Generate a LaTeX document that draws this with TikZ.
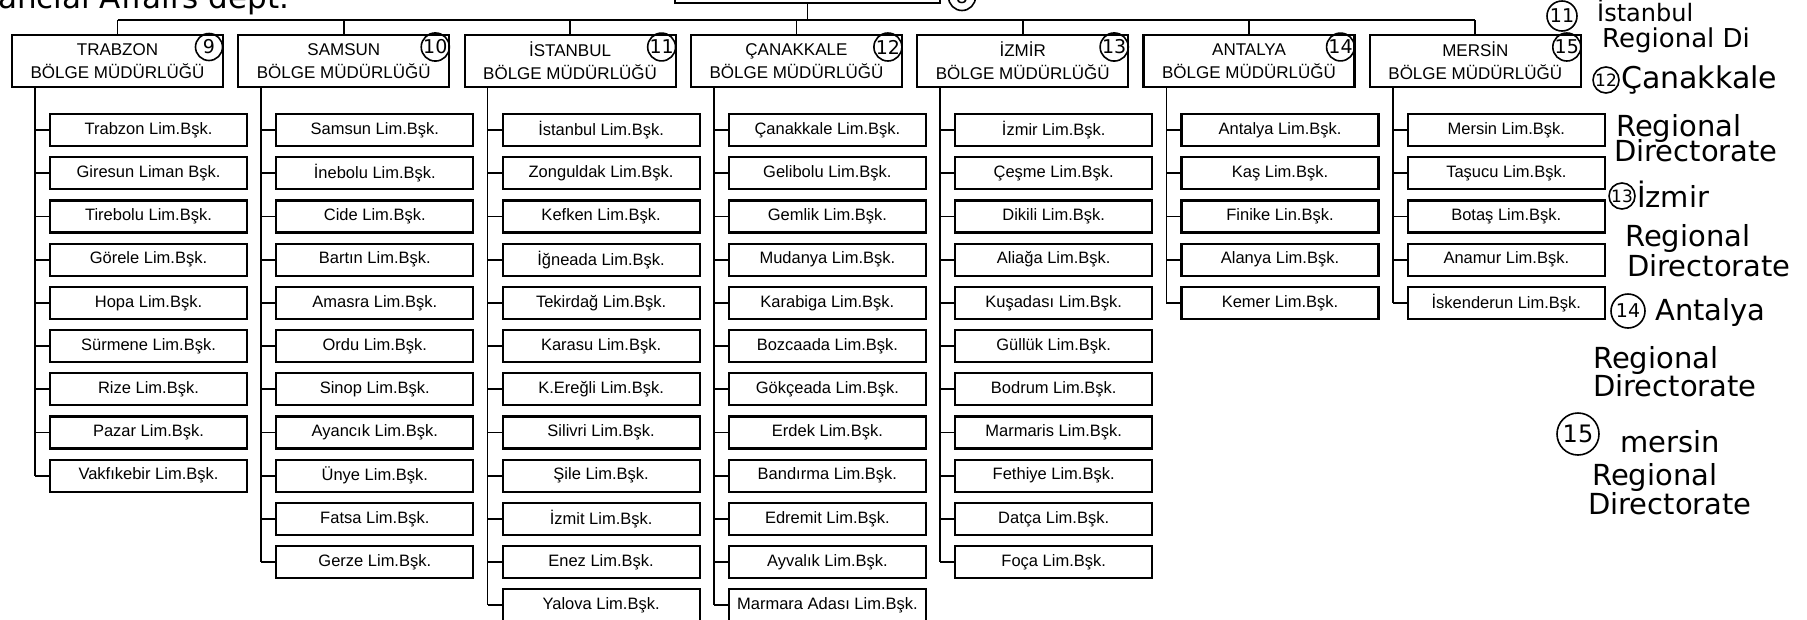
\documentclass[tikz,border=0pt]{standalone}
\usepackage{fontspec}
\setmainfont{Liberation Sans}
\newfontfamily\hand{DejaVu Sans}
\newcommand\mykids[3]{%
  \foreach \t [count=\k] in {#3} {
    \pgfmathsetmacro\cx{148.5+226.3*#1}
    \pgfmathsetmacro\cy{130+43.2*(\k-1)}
    \node[child] (c#1-\k) at (\cx,\cy) {\t};
    \draw[conn] (v#1 |- c#1-\k.west) -- (c#1-\k.west);
  }
  \draw[conn] (v#1) -- (v#1 |- c#1-#2.west);
}
\begin{document}
\begin{tikzpicture}[x=1pt,y=-1pt,
  hdr/.style={draw, line width=2.2pt, minimum width=211pt, minimum height=52pt, align=center, inner sep=0pt, font=\fontsize{17}{23}\selectfont},
  child/.style={draw, line width=2.2pt, minimum width=197pt, minimum height=32pt, inner sep=0pt, font=\fontsize{16.5}{19}\selectfont},
  topbox/.style={draw, line width=2.2pt, minimum width=265pt, minimum height=44pt, inner sep=0pt},
  conn/.style={line width=1.8pt},
  num/.style={draw, circle, line width=1.6pt, minimum size=27pt, inner sep=0pt, font=\hand\fontsize{19}{19}\selectfont},
  hw/.style={font=\hand\fontsize{29}{29}\selectfont, anchor=base west, inner sep=0pt}]
\useasboundingbox (0,0) rectangle (1807,619);
\fill[white] (0,0) rectangle (1807,619);

% top box (cut off)
\node[topbox, anchor=south] (top) at (807.5,4) {};
\node[num] (n8) at (962,-3) {8};
\node[hw, font=\hand\fontsize{31}{31}\selectfont] (hwtop) at (-2,8) {ancial Affairs dept.};

% headers
\coordinate (bus) at (0,20);
\foreach \nm/\nb [count=\i from 0] in {TRABZON/9, SAMSUN/10, İSTANBUL/11, ÇANAKKALE/12, İZMİR/13, ANTALYA/14, MERSİN/15} {
  \pgfmathsetmacro\hx{117.5+226.3*\i}
  \pgfmathsetmacro\nx{12+226.3*\i+211-14}
  \node[hdr] (h\i) at (\hx,61) {\nm\\BÖLGE MÜDÜRLÜĞÜ};
  \node[num] (n\nb) at (\nx,47) {\nb};
  \coordinate (v\i) at ([xshift=24pt]h\i.south west);
  \draw[conn] (h\i.north) -- (h\i.north |- bus);
}
\draw[conn] (h0.north |- bus) -- (h6.north |- bus);
\draw[conn] (top.south) -- (top.south |- bus);

\mykids{0}{9}{Trabzon Lim.Bşk., Giresun Liman Bşk., Tirebolu Lim.Bşk., Görele Lim.Bşk., Hopa Lim.Bşk., Sürmene Lim.Bşk., Rize Lim.Bşk., Pazar Lim.Bşk., Vakfıkebir Lim.Bşk.}
\mykids{1}{11}{Samsun Lim.Bşk., İnebolu Lim.Bşk., Cide Lim.Bşk., Bartın Lim.Bşk., Amasra Lim.Bşk., Ordu Lim.Bşk., Sinop Lim.Bşk., Ayancık Lim.Bşk., Ünye Lim.Bşk., Fatsa Lim.Bşk., Gerze Lim.Bşk.}
\mykids{2}{12}{İstanbul Lim.Bşk., Zonguldak Lim.Bşk., Kefken Lim.Bşk., İğneada Lim.Bşk., Tekirdağ Lim.Bşk., Karasu Lim.Bşk., K.Ereğli Lim.Bşk., Silivri Lim.Bşk., Şile Lim.Bşk., İzmit Lim.Bşk., Enez Lim.Bşk., Yalova Lim.Bşk.}
\mykids{3}{12}{Çanakkale Lim.Bşk., Gelibolu Lim.Bşk., Gemlik Lim.Bşk., Mudanya Lim.Bşk., Karabiga Lim.Bşk., Bozcaada Lim.Bşk., Gökçeada Lim.Bşk., Erdek Lim.Bşk., Bandırma Lim.Bşk., Edremit Lim.Bşk., Ayvalık Lim.Bşk., Marmara Adası Lim.Bşk.}
\mykids{4}{11}{İzmir Lim.Bşk., Çeşme Lim.Bşk., Dikili Lim.Bşk., Aliağa Lim.Bşk., Kuşadası Lim.Bşk., Güllük Lim.Bşk., Bodrum Lim.Bşk., Marmaris Lim.Bşk., Fethiye Lim.Bşk., Datça Lim.Bşk., Foça Lim.Bşk.}
\mykids{5}{5}{Antalya Lim.Bşk., Kaş Lim.Bşk., Finike Lin.Bşk., Alanya Lim.Bşk., Kemer Lim.Bşk.}
\mykids{6}{5}{Mersin Lim.Bşk., Taşucu Lim.Bşk., Botaş Lim.Bşk., Anamur Lim.Bşk., İskenderun Lim.Bşk.}

% handwritten notes on the right
\node[num, minimum size=30pt] (a11) at (1562,16) {11};
\node[hw, font=\hand\fontsize{24}{24}\selectfont] (t11a) at (1597,21) {İstanbul};
\node[hw, font=\hand\fontsize{26}{26}\selectfont] (t11b) at (1602,47) {Regional Di};
\node[num, minimum size=26pt, font=\hand\fontsize{17}{17}\selectfont] (a12) at (1606,80) {12};
\node[hw, font=\hand\fontsize{30}{30}\selectfont] (t12a) at (1621,88) {Çanakkale};
\node[hw] (t12b) at (1616,136) {Regional};
\node[hw] (t12c) at (1614,161) {Directorate};
\node[num, minimum size=26pt, font=\hand\fontsize{17}{17}\selectfont] (a13) at (1622,196) {13};
\node[hw] (t13a) at (1637,207) {İzmir};
\node[hw] (t13b) at (1625,246) {Regional};
\node[hw] (t13c) at (1627,276) {Directorate};
\node[num, minimum size=34pt] (a14) at (1628,311) {14};
\node[hw] (t14a) at (1655,320) {Antalya};
\node[hw] (t14b) at (1593,368) {Regional};
\node[hw] (t14c) at (1593,396) {Directorate};
\node[num, minimum size=42pt, font=\hand\fontsize{24}{24}\selectfont] (a15) at (1578,434) {15};
\node[hw] (t15a) at (1620,452) {mersin};
\node[hw] (t15b) at (1592,485) {Regional};
\node[hw] (t15c) at (1588,514) {Directorate};
\end{tikzpicture}
\end{document}
